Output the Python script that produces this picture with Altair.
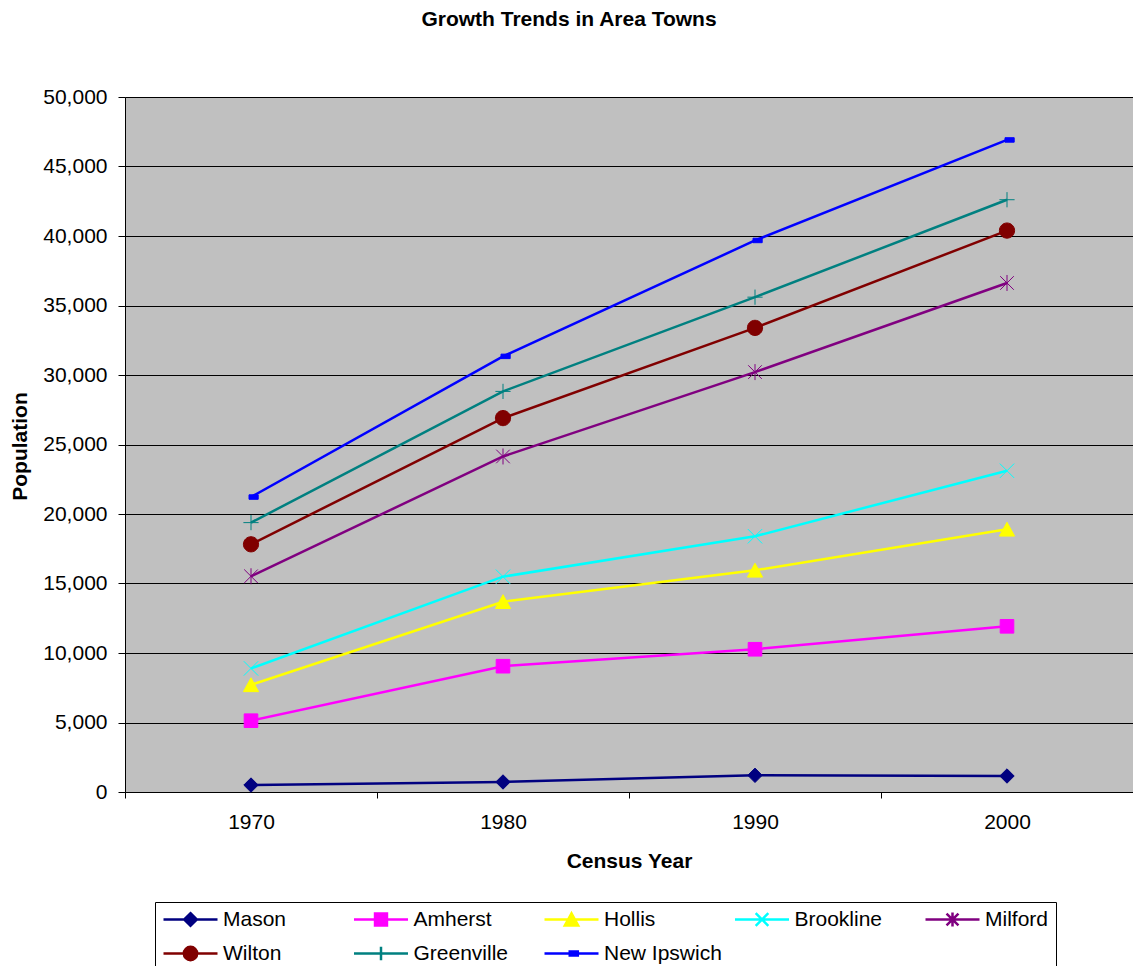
import re
import altair as alt
import pandas as pd

# ---- data ----
years = ["1970", "1980", "1990", "2000"]
towns = ["Mason", "Amherst", "Hollis", "Brookline", "Milford", "Wilton", "Greenville", "New Ipswich"]
mason = [500, 720, 1200, 1150]
amherst = [5130, 9050, 10270, 11920]
hollis = [7710, 13690, 15950, 18900]
brookline = [8890, 15490, 18400, 23110]
milford = [15520, 24140, 30210, 36620]
wilton = [17820, 26900, 33390, 40390]
greenville = [19380, 28820, 35600, 42610]
new_ipswich = [21220, 31340, 39680, 46910]
colors = ["#000080", "#FF00FF", "#FFFF00", "#00FFFF", "#800080", "#800000", "#008080", "#0000FF"]

series = [mason, amherst, hollis, brookline, milford, wilton, greenville, new_ipswich]
rows = []
for t, vals in zip(towns, series):
    for y, v in zip(years, vals):
        rows.append({"town": t, "year": y, "pop": v})
df = pd.DataFrame(rows)

FONT = "Liberation Sans"

# ---- marker shapes (unit coordinates) ----
c = 0.5523
r = 0.95
circle = (f"M{r},0C{r},{c*r},{c*r},{r},0,{r}C{-c*r},{r},{-r},{c*r},{-r},0"
          f"C{-r},{-c*r},{-c*r},{-r},0,{-r}C{c*r},{-r},{r},{-c*r},{r},0Z")
marker = [
    "M0,-0.9L0.9,0L0,0.9L-0.9,0Z",
    "M-0.85,-0.85H0.85V0.85H-0.85Z",
    "M0,-0.88L0.95,0.85H-0.95Z",
    "M-0.9,-0.9L0.9,0.9M-0.9,0.9L0.9,-0.9",
    "M-0.85,-0.85L0.85,0.85M-0.85,0.85L0.85,-0.85M0,-1V1",
    circle,
    "M-0.95,0H0.95M0,-0.95V0.95",
    "M-0.25,-0.28H0.9V0.28H-0.25Z",
]
marker_sw = [1, 1, 1, 2.5, 2.5, 1, 2.5, 1]


def scale_path(p, k):
    return re.sub(r"-?\d*\.?\d+", lambda m: f"{float(m.group()) * k:.4g}", p)


legend_paths = ["M-1,0H1" + scale_path(p, 0.26) for p in marker]

x_enc = alt.X(
    "year:O",
    bandPosition=0.5,
    scale=alt.Scale(type="band", domain=years, paddingInner=0, paddingOuter=0),
    axis=alt.Axis(
        title="Census Year", labelAngle=0, tickBand="extent", tickSize=6,
        labelPadding=13, labelFont=FONT, labelFontSize=21, labelColor="black",
        titleFont=FONT, titleFontSize=21, titleFontWeight="bold", titleColor="black",
        titleY=69, titleBaseline="middle", domainColor="black", tickColor="black",
        grid=False,
    ),
)
y_enc = alt.Y(
    "pop:Q",
    scale=alt.Scale(domain=[0, 50000], nice=False, zero=True),
    axis=alt.Axis(
        title="Population", values=list(range(0, 50001, 5000)), format=",d",
        tickSize=7, labelPadding=11, labelFont=FONT, labelFontSize=21, labelColor="black",
        titleFont=FONT, titleFontSize=21, titleFontWeight="bold", titleColor="black",
        titleX=-105, titleY=349, titleAlign="center", titleBaseline="middle", titleAngle=270,
        domainColor="black", tickColor="black", gridColor="#000000", gridWidth=1,
    ),
)

cscale = alt.Scale(domain=towns, range=colors)

lines = alt.Chart(df).mark_line(strokeWidth=2.5).encode(
    x=x_enc, y=y_enc,
    stroke=alt.Stroke("town:N", scale=cscale, legend=None),
    detail="town:N",
)

points = alt.Chart(df).mark_point(filled=True, size=256, opacity=1).encode(
    x=x_enc, y=y_enc,
    fill=alt.Fill("town:N", scale=cscale, legend=None),
    stroke=alt.Stroke("town:N", scale=cscale, legend=None),
    shape=alt.Shape("town:N", scale=alt.Scale(domain=towns, range=marker), legend=None),
    strokeWidth=alt.StrokeWidth("town:N", scale=alt.Scale(domain=towns, range=marker_sw), legend=None),
)

leg = alt.Legend(
    title=None, orient="none", legendX=30, legendY=805, direction="horizontal",
    columns=5, gridAlign="all", columnPadding=11.5, rowPadding=12, clipHeight=21,
    padding=7, strokeColor="black", fillColor="white",
    labelFont=FONT, labelFontSize=21, labelColor="black", labelOffset=4, labelLimit=300,
    symbolSize=2916, symbolStrokeWidth=2.5, symbolOpacity=1,
)

legend_layer = alt.Chart(df).mark_point(filled=True, size=2916, opacity=1).encode(
    x=x_enc, y=y_enc,
    fill=alt.Fill("town:N", scale=cscale, legend=leg),
    stroke=alt.Stroke("town:N", scale=cscale, legend=leg),
    shape=alt.Shape("town:N", scale=alt.Scale(domain=towns, range=legend_paths), legend=leg),
).transform_filter("datum.pop < 0")

chart = alt.layer(lines, points, legend_layer).resolve_scale(
    shape="independent", fill="independent", stroke="independent", strokeWidth="independent"
).properties(
    width=1008, height=695,
    background="white",
    autosize=alt.AutoSizeParams(type="none"),
    padding={"left": 125, "top": 97, "right": 0, "bottom": 174},
    title=alt.TitleParams(
        "Growth Trends in Area Towns", font=FONT, fontSize=21, fontWeight="bold",
        color="black", anchor="middle", dx=-60, offset=56,
    ),
).configure_view(fill="#C0C0C0", strokeWidth=0)

chart.save("out.html", embed_options={"renderer": "svg", "actions": False})
